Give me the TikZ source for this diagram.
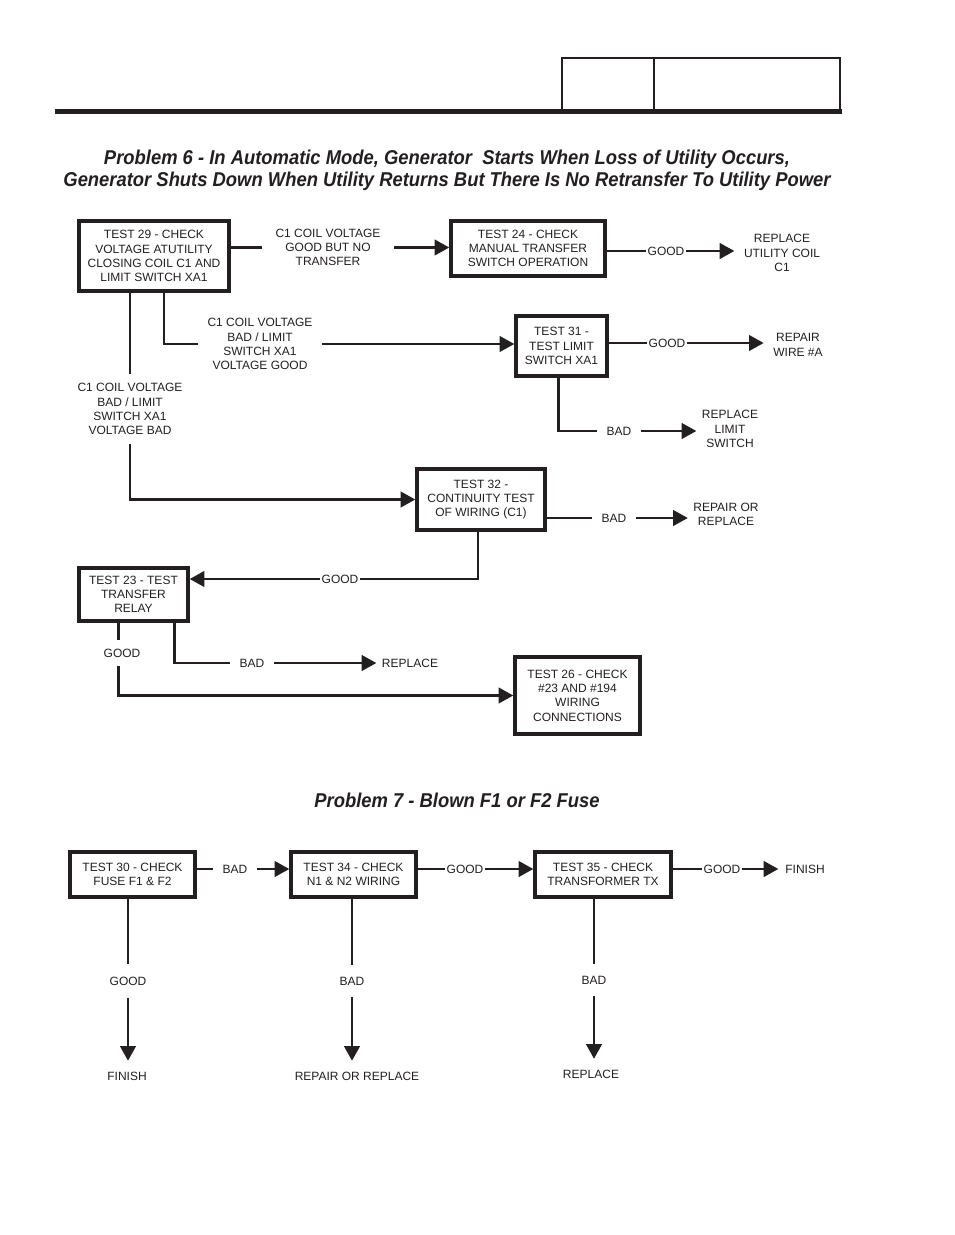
\documentclass[tikz,border=0pt]{standalone}
\usepackage{fontspec}
\setmainfont{Liberation Sans}
\newfontfamily\titlefont{Liberation Sans}[FakeStretch=0.92]
\usetikzlibrary{arrows.meta}
\definecolor{ink}{HTML}{231F20}

\begin{document}
\begin{tikzpicture}[x=0.75pt, y=-0.75pt, ink,
        every node/.style={font=\fontsize{9}{10.7}\selectfont, align=center, text=ink},
        testbox/.style={draw, line width=2.5pt, inner sep=0pt},
        lbl/.style={inner xsep=7pt, inner ysep=2pt},
        wire/.style={line width=2.2pt},
        arr/.style={wire, -{Triangle[length=11pt,width=11.5pt]}},
        ttl/.style={font=\titlefont\bfseries\itshape\fontsize{15}{16.5}\selectfont}]
    \useasboundingbox (0,0) rectangle (954,1235);

    % header
    \fill (55,109) rectangle (842,114);
    \draw[line width=1.4pt] (562,110) -- (562,58) -- (840,58) -- (840,110);
    \draw[line width=1.4pt] (654,58) -- (654,110);

    % problem 6
    \node[ttl] (p6) at (447,170) {Problem 6 - In Automatic Mode, Generator\ \ Starts When Loss of Utility Occurs,\\
        Generator Shuts Down When Utility Returns But There Is No Retransfer To Utility Power};

    \node[testbox, minimum width=112.5pt, minimum height=52.5pt] (t29) at (154,256)
        {TEST 29 - CHECK\\VOLTAGE ATUTILITY\\CLOSING COIL C1 AND\\LIMIT SWITCH XA1};
    \node[testbox, minimum width=115.5pt, minimum height=41.25pt] (t24) at (528,248.5)
        {TEST 24 - CHECK\\MANUAL TRANSFER\\SWITCH OPERATION};
    \node[testbox, minimum width=68.25pt, minimum height=45pt] (t31) at (561.5,346)
        {TEST 31 -\\TEST LIMIT\\SWITCH XA1};
    \node[testbox, minimum width=96pt, minimum height=45.75pt] (t32) at (481,499.5)
        {TEST 32 -\\CONTINUITY TEST\\OF WIRING (C1)};
    \node[testbox, minimum width=81.75pt, minimum height=39.75pt] (t23) at (133.5,594.5)
        {TEST 23 - TEST\\TRANSFER\\RELAY};
    \node[testbox, minimum width=93.75pt, minimum height=57.75pt] (t26) at (577.5,695.5)
        {TEST 26 - CHECK\\\#23 AND \#194\\WIRING\\CONNECTIONS};

    \node[lbl, inner xsep=10pt] (goodnt) at (328,247.5) {C1 COIL VOLTAGE\\GOOD BUT NO\\TRANSFER};
    \node[lbl] (badgood) at (260,344) {C1 COIL VOLTAGE\\BAD / LIMIT\\SWITCH XA1\\VOLTAGE GOOD};
    \node[lbl, inner ysep=7pt] (badbad) at (130,409) {C1 COIL VOLTAGE\\BAD / LIMIT\\SWITCH XA1\\VOLTAGE BAD};
    \node[lbl, inner xsep=1pt] (g24) at (666,251) {GOOD};
    \node[lbl] (coil) at (782,253) {REPLACE\\UTILITY COIL\\C1};
    \node[lbl, inner xsep=1pt] (g31) at (667,343) {GOOD};
    \node[lbl] (wire) at (798,345) {REPAIR\\WIRE \#A};
    \node[lbl] (b31) at (619,431) {BAD};
    \node[lbl, inner xsep=4pt] (limit) at (730,429) {REPLACE\\LIMIT\\SWITCH};
    \node[lbl] (b32) at (614,518) {BAD};
    \node[lbl, inner xsep=4pt] (rep32) at (726,514) {REPAIR OR\\REPLACE};
    \node[lbl, inner xsep=1pt] (g32) at (340,579) {GOOD};
    \node[lbl, inner ysep=6pt] (g23) at (122,653) {GOOD};
    \node[lbl] (b23) at (252,663) {BAD};
    \node[lbl, inner xsep=4pt] (rep23) at (410,663) {REPLACE};

    \draw[wire] (t29.east |- goodnt) -- (goodnt.west);
    \draw[arr] (goodnt.east) -- (t24.west |- goodnt);
    \draw[wire] ([xshift=7.5pt]t29.south) |- (badgood.west);
    \draw[arr] (badgood.east) -- (t31.west |- badgood);
    \draw[wire] (t29.south -| badbad) -- (badbad.north);
    \draw[arr] (badbad.south) |- (t32.west);
    \draw[wire] (t24.east |- g24) -- (g24.west);
    \draw[arr] (g24.east) -- (coil.west |- g24);
    \draw[wire] (t31.east |- g31) -- (g31.west);
    \draw[arr] (g31.east) -- (wire.west |- g31);
    \draw[wire] ([xshift=-2.6pt]t31.south) |- (b31.west);
    \draw[arr] (b31.east) -- (limit.west |- b31);
    \draw[wire] (t32.east |- b32) -- (b32.west);
    \draw[arr] (b32.east) -- (rep32.west |- b32);
    \draw[wire] ([xshift=-2.25pt]t32.south) |- (g32.east);
    \draw[arr] (g32.west) -- (t23.east |- g32);
    \coordinate (g23top) at ([xshift=-11.6pt]t23.south);
    \draw[wire] (g23top) -- (g23top |- g23.north);
    \draw[arr] (g23top |- g23.south) |- (t26.west);
    \draw[wire] ([xshift=31pt]t23.south) |- (b23.west);
    \draw[arr] (b23.east) -- (rep23.west);

    % problem 7
    \node[ttl] (p7) at (457,800) {Problem 7 - Blown F1 or F2 Fuse};

    \node[testbox, minimum width=93.75pt, minimum height=33.75pt] (t30) at (132.5,874.5)
        {TEST 30 - CHECK\\FUSE F1 \& F2};
    \node[testbox, minimum width=93.75pt, minimum height=33.75pt] (t34) at (353.5,874.5)
        {TEST 34 - CHECK\\N1 \& N2 WIRING};
    \node[testbox, minimum width=102pt, minimum height=33.75pt] (t35) at (603,874.5)
        {TEST 35 - CHECK\\TRANSFORMER TX};

    \node[lbl] (b30) at (235,869) {BAD};
    \node[lbl, inner xsep=1pt] (g34) at (465,869) {GOOD};
    \node[lbl, inner xsep=1pt] (g35) at (722,869) {GOOD};
    \node[lbl, inner xsep=5pt] (fin35) at (805,869) {FINISH};
    \node[lbl, inner ysep=9pt] (g30) at (128,981) {GOOD};
    \node[lbl, inner ysep=8pt] (fin30) at (127,1076) {FINISH};
    \node[lbl, inner ysep=9pt] (b34) at (352,981) {BAD};
    \node[lbl, inner ysep=8pt] (rep34) at (357,1076) {REPAIR OR REPLACE};
    \node[lbl, inner ysep=9pt] (b35) at (594,980) {BAD};
    \node[lbl, inner ysep=8pt] (rep35) at (591,1074) {REPLACE};

    \draw[wire] (t30.east |- b30) -- (b30.west);
    \draw[arr] (b30.east) -- (t34.west |- b30);
    \draw[wire] (t34.east |- g34) -- (g34.west);
    \draw[arr] (g34.east) -- (t35.west |- g34);
    \draw[wire] (t35.east |- g35) -- (g35.west);
    \draw[arr] (g35.east) -- (fin35.west);
    \draw[wire] (t30.south -| g30) -- (g30.north);
    \draw[arr] (g30.south) -- (g30 |- fin30.north);
    \draw[wire] (t34.south -| b34) -- (b34.north);
    \draw[arr] (b34.south) -- (b34 |- rep34.north);
    \draw[wire] (t35.south -| b35) -- (b35.north);
    \draw[arr] (b35.south) -- (b35 |- rep35.north);
\end{tikzpicture}
\end{document}
